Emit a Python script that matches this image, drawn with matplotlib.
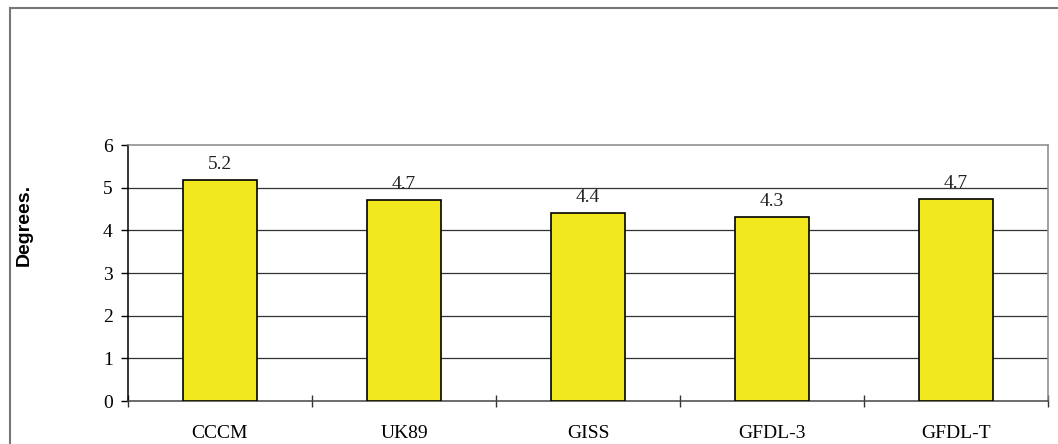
import numpy as np
import matplotlib.pyplot as plt
from matplotlib.lines import Line2D

# --> Data
models = ['CCCM', 'UK89', 'GISS', 'GFDL-3', 'GFDL-T']
degrees = [5.18, 4.71, 4.40, 4.31, 4.74]
y_ticks = [0, 1, 2, 3, 4, 5, 6]

bar_color = '#f2e81e'
serif = ['Liberation Serif', 'DejaVu Serif']

fig = plt.figure(figsize=(10.58, 4.44), dpi=100)
ax = fig.add_axes([128 / 1058, 43 / 444, 920 / 1058, 256 / 444])

x = np.arange(len(models))
bars = ax.bar(x, degrees, width=0.4, color=bar_color, edgecolor='black',
              linewidth=1.2, zorder=3)

# --> Value labels above bars
for xi, v in zip(x, degrees):
    ax.annotate('%.1f' % v, (xi, v), xytext=(0, 5), textcoords='offset points',
                ha='center', va='bottom', fontsize=14, family=serif,
                color='#222222')

ax.set_xlim(-0.5, len(models) - 0.5)
ax.set_ylim(0, 6)
ax.set_yticks(y_ticks)
ax.set_yticklabels([str(t) for t in y_ticks], family=serif, fontsize=14)

# --> Category labels on major ticks, tick marks on category boundaries
ax.set_xticks(x)
ax.set_xticklabels(models, family=serif, fontsize=14)
ax.set_xticks(np.arange(-0.5, len(models)), minor=True)
ax.tick_params(axis='x', which='major', length=0, pad=17)
ax.tick_params(axis='x', which='minor', direction='inout', length=9,
               width=1, color='#333333')
ax.tick_params(axis='y', direction='out', length=5, width=1, pad=6)

# --> Grid lines
for t in y_ticks[1:-1]:
    ax.axhline(t, color='#333333', linewidth=0.9, zorder=1)

ax.spines['left'].set_color('black')
ax.spines['bottom'].set_color('#444444')
ax.spines['top'].set_color('#888888')
ax.spines['right'].set_color('#888888')
for s in ax.spines.values():
    s.set_linewidth(1.1)

fig.text(24 / 1058, 1 - 225 / 444, 'Degrees.', rotation=90, ha='center',
         va='center', fontsize=14, fontweight='bold', family='Liberation Sans')

# --> Outer frame (left and top only, as in the original)
frame_y = 1 - 8.5 / 444
fig.add_artist(Line2D([9.5 / 1058, 9.5 / 1058], [0, frame_y],
                      transform=fig.transFigure, color='#777777', linewidth=1.5))
fig.add_artist(Line2D([9.5 / 1058, 1.0], [frame_y, frame_y],
                      transform=fig.transFigure, color='#777777', linewidth=1.5))

fig.savefig('out.png', dpi=100)
